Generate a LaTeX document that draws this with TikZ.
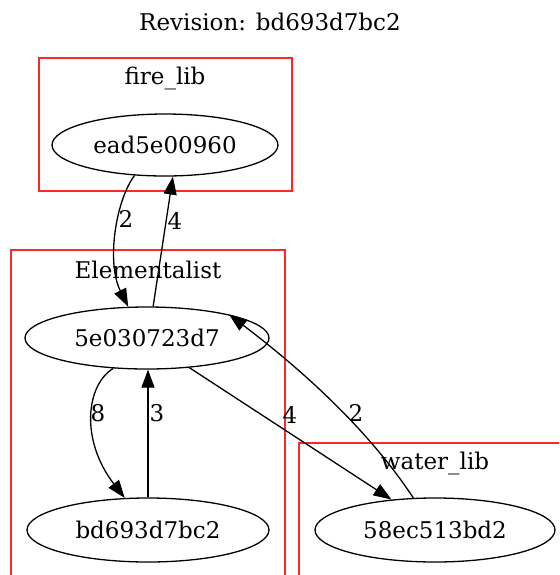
\documentclass[tikz,border=0pt]{standalone}
\usepackage{fontspec}
\setmainfont{DejaVu Serif}
\usetikzlibrary{shapes.geometric,arrows.meta,positioning}

\begin{document}
\begin{tikzpicture}[x=0.5pt, y=-0.5pt, >={Triangle[length=9pt,width=6.5pt]}, line width=0.65pt, font=\fontsize{11.5}{14}\selectfont]
\tikzstyle{commit}=[draw, ellipse, inner sep=0pt, minimum height=31pt]
\tikzstyle{cluster}=[draw=red!85!white, line width=0.65pt]
\tikzstyle{weight}=[inner sep=0pt]

\useasboundingbox (0,0) rectangle (559,575);
\clip (0,0) rectangle (559,575);

\node (title) at (270,22) {Revision: bd693d7bc2};

% clusters
\draw[cluster] (39,58) rectangle (292,191);
\node (firelbl) at (165,78) {fire\_lib};
\draw[cluster] (11,250) rectangle (285,600);
\node (elemlbl) at (148,270) {Elementalist};
\draw[cluster] (299,443) rectangle (600,600);
\node (waterlbl) at (435,463) {water\_lib};

% commits
\node[commit, minimum width=113pt] (fire)  at (165,145) {ead5e00960};
\node[commit, minimum width=122pt] (elem)  at (147,338) {5e030723d7};
\node[commit, minimum width=121pt, minimum height=32pt] (bd) at (148,530) {bd693d7bc2};
\node[commit, minimum width=120pt, minimum height=32pt] (water) at (435,530) {58ec513bd2};

% dependencies
\draw[->] (fire.225) .. controls (116,200) and (106,262) .. (elem.121)
  node[weight] at (126,219) {2};
\draw[->] (elem.79) -- (fire.-76)
  node[weight] at (175,221) {4};
\draw[->] (elem.222) .. controls (86,385) and (80,440) .. (bd.126)
  node[weight] at (98,413) {8};
\draw[->] (bd.north) -- (bd.north |- elem.south)
  node[weight] at (157,413) {3};
\draw[->] (elem.-35) -- (water.145)
  node[weight] at (290,415) {4};
\draw[->] (water.124) .. controls (385,455) and (335,395) .. (elem.16)
  node[weight] at (356,413) {2};
\end{tikzpicture}
\end{document}
